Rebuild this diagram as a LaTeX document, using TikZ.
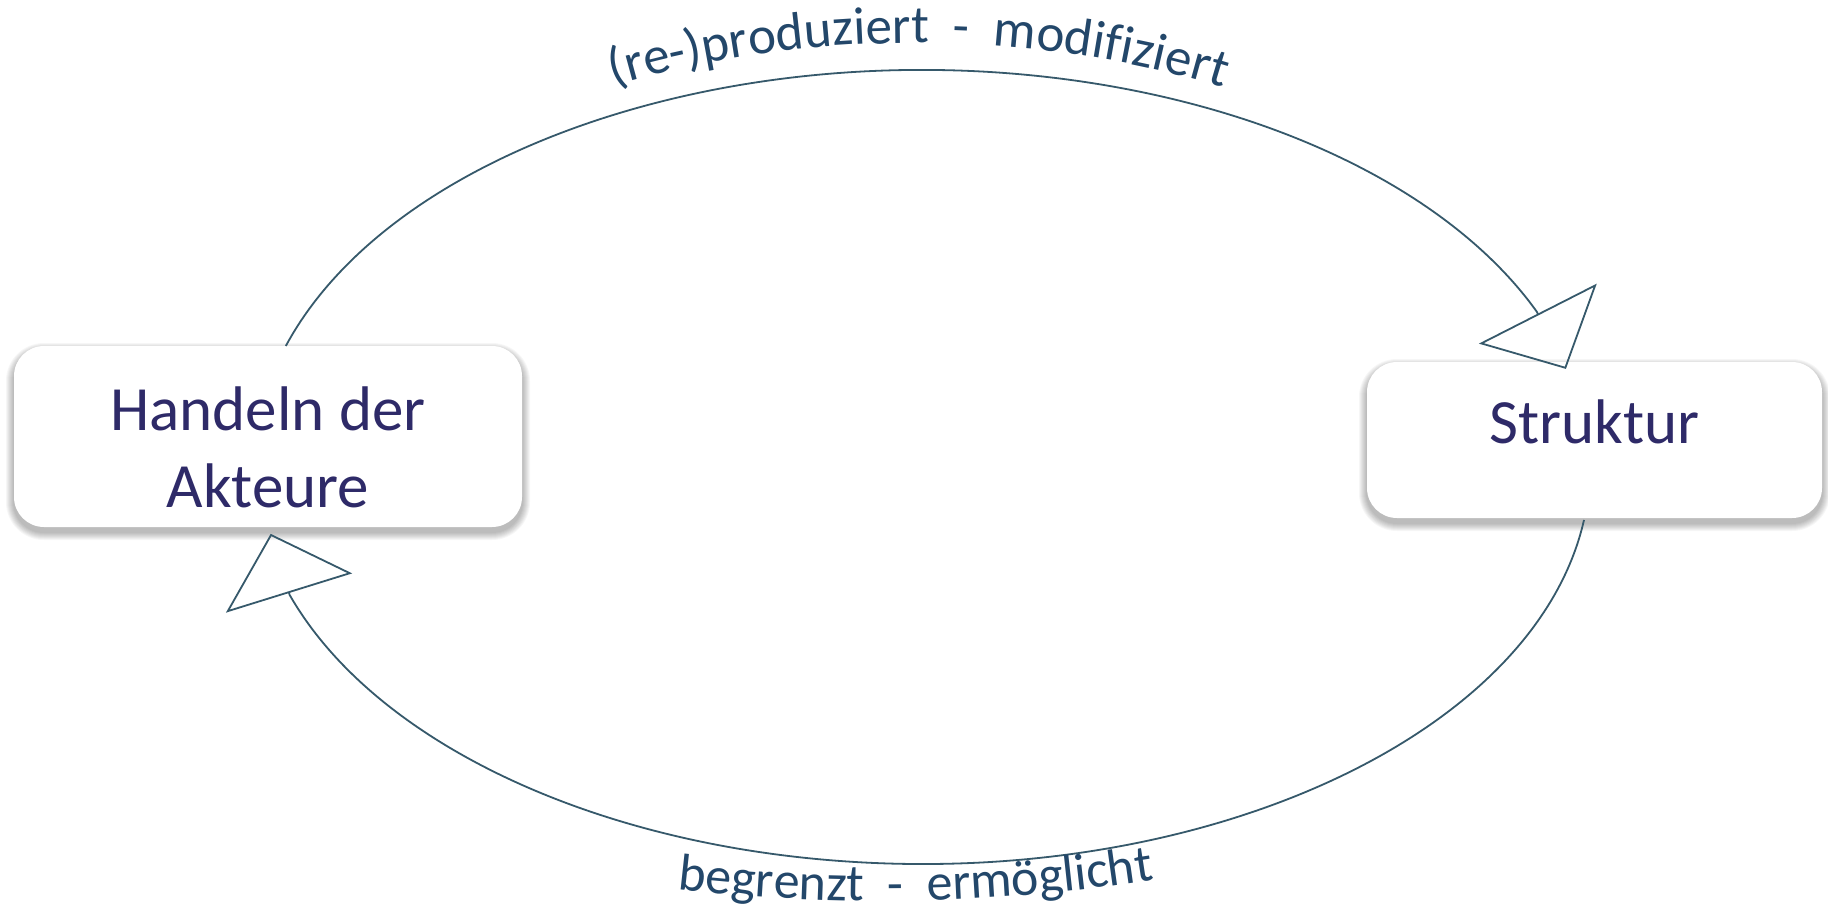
\documentclass[tikz,border=0pt]{standalone}
\usepackage{fontspec}
\setmainfont{Carlito}
\usetikzlibrary{arrows.meta,decorations.text,calc}
\definecolor{boxtext}{HTML}{2E2A68}
\definecolor{linecol}{HTML}{36596B}
\definecolor{labelcol}{HTML}{23476A}
\begin{document}
\begin{tikzpicture}[x=1pt,y=1pt,
  boxstyle/.style={rectangle, rounded corners=30pt, fill=white, draw=none, inner sep=0pt},
  boxlabel/.style={anchor=base, text=boxtext, font=\fontsize{63}{76}\selectfont, inner sep=0pt},
  conn/.style={draw=linecol, line width=1.8pt, -{Triangle[open, length=62pt, width=132pt, line width=1.8pt]}},
  shadowlayer/.style={fill=black, fill opacity=0.035, rounded corners=#1}
]
\fill[white] (0,0) rectangle (1828,-913);
\useasboundingbox (0,0) rectangle (1828,-913);

% shadows
\foreach \s in {1,...,8}{
  \fill[shadowlayer=30+\s] (14-\s,-351+\s) rectangle (522+\s,-532-\s);
  \fill[shadowlayer=30+\s] (1367-\s,-367+\s) rectangle (1822+\s,-523-\s);
}

% boxes
\node[boxstyle, minimum width=508pt, minimum height=181pt] (A) at (268,-436.5) {};
\node[boxlabel] (A1) at (268,-430) {Handeln der};
\node[boxlabel] (A2) at (268,-507) {Akteure};
\node[boxstyle, minimum width=455pt, minimum height=156pt] (B) at (1594.5,-440) {};
\node[boxlabel] (B1) at (1594.5,-443) {Struktur};

% connectors
\coordinate (C) at (922,-467);
\coordinate (s1) at ($(C)+(162.25:668pt and 397pt)$);
\coordinate (e1) at ($(C)+(23:668pt and 397pt)$);
\coordinate (t1) at ($(e1)+(29,-57)$);
\draw[conn] (s1) arc[start angle=162.25, end angle=23, x radius=668pt, y radius=397pt] -- (t1);

\coordinate (s2) at ($(C)+(-7.67:668pt and 397pt)$);
\coordinate (e2) at ($(C)+(198.8:668pt and 397pt)$);
\coordinate (t2) at ($(e2)+(-19,61.1)$);
\draw[conn] (s2) arc[start angle=-7.67, end angle=-161.2, x radius=668pt, y radius=397pt] -- (t2);

% curved labels
\coordinate (LT) at (915,-440);
\coordinate (LB) at (880,-451);
\path[decorate, decoration={text along path, text color=labelcol,
  text={|\fontsize{53}{60}\selectfont|(re-)produziert{\ }{\ }-{\ }{\ }modifiziert}}]
  ($(LT)+(116.8:668pt and 397pt)$) arc[start angle=116.8, end angle=10, x radius=668pt, y radius=397pt];
\path[decorate, decoration={text along path, text color=labelcol,
  text={|\fontsize{52}{60}\selectfont|begrenzt{\ }{\ }-{\ }{\ }ermöglicht}}]
  ($(LB)+(257:900pt and 450pt)$) arc[start angle=257, end angle=320, x radius=900pt, y radius=450pt];
\end{tikzpicture}
\end{document}
